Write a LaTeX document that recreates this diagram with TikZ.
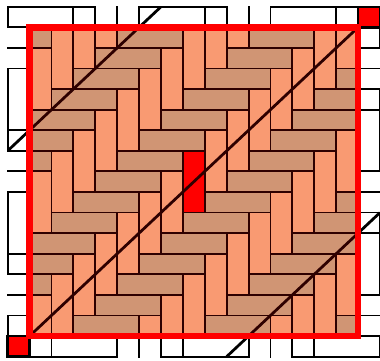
\documentclass[tikz,border=0pt]{standalone}
\usetikzlibrary{calc}
\definecolor{vertSalmon}{HTML}{F99A72}
\definecolor{horizTan}{HTML}{D09574}
\definecolor{inkDark}{HTML}{2E0000}
\definecolor{markRed}{HTML}{FF0000}
\tikzset{
  outline/.style={draw=black, line width=1.2pt},
  inline/.style={draw=inkDark, line width=1.2pt},
  vfill/.style={fill=vertSalmon},
  hfill/.style={fill=horizTan},
  diagline/.style={line width=1.8pt},
  frameline/.style={draw=markRed, line width=4.2pt},
  cornermark/.style={fill=markRed, draw=black, line width=1.6pt},
}
% one pass over the herringbone: #1 for the 1x3 standing bricks, #2 for the 3x1 lying ones
\newcommand{\brickLoop}[2]{%
  \foreach \y in {-3,...,16}{
    \foreach \x in {-3,...,16}{
      \pgfmathtruncatemacro{\brickType}{mod(\x-\y+60,6)}
      \ifnum\brickType=1 \path[#1] (\x,\y) rectangle ++(1,3);\fi
      \ifnum\brickType=2 \path[#2] (\x,\y) rectangle ++(3,1);\fi}}}

\begin{document}
\begin{tikzpicture}[x=0.5cm, y=0.4698cm]
\useasboundingbox (-1.35,-1.21) rectangle (16.0,16.33);

% ------------------------------------------------- the tiling round the domain
\begin{scope}
  \clip (-1.03,-1.03) rectangle (16.03,16.03);
  \brickLoop{outline}{outline}
  \draw[diagline] (-1,9) -- (6,16);
  \draw[diagline] (9,-1) -- (16,6);
\end{scope}

% ------------------------------------------------------ the two corner cells
\draw[cornermark] (-1,-1) rectangle (0,0);
\draw[cornermark] (15,15) rectangle (16,16);

% ------------------------------------------------------------- the domain
\begin{scope}
  \clip (0,0) rectangle (15,15);
  \brickLoop{vfill}{hfill}
  \brickLoop{inline}{inline}
  % the marked brick
  \draw[inline, fill=markRed] (7,6) rectangle (8,9);
  \draw[diagline, inkDark] (0,0) -- (15,15);
  \draw[diagline, inkDark] (-1,9) -- (6,16);
  \draw[diagline, inkDark] (9,-1) -- (16,6);
\end{scope}

% -------------------------------------------------------------- the frame
\draw[frameline] (0,0) rectangle (15,15);

\end{tikzpicture}
\end{document}
